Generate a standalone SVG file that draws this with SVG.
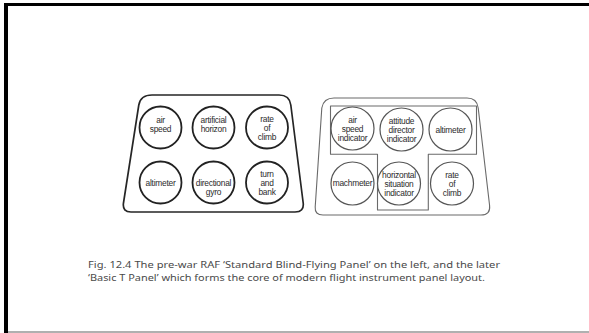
<svg xmlns="http://www.w3.org/2000/svg" width="589" height="333" viewBox="0 0 589 333">
  <style>
    .frame { fill: #000; }
    .panel-old { fill: none; stroke: #262626; stroke-width: 1.7; stroke-linejoin: round; }
    .panel-new { fill: none; stroke: #6a6a6a; stroke-width: 1.1; stroke-linejoin: round; }
    .dial-old { fill: #fff; stroke: #222; stroke-width: 1.8; }
    .dial-new { fill: #fff; stroke: #555; stroke-width: 1.2; }
    .lbl { font-family: "Liberation Sans", Arial, sans-serif; font-size: 8.4px; fill: #2b2b2b; text-anchor: middle; letter-spacing: -0.25px; }
    .cap { font-family: "Noto Sans", "Liberation Sans", sans-serif; font-size: 9.8px; fill: #4a4a4a; }
  </style>

  <rect width="589" height="333" fill="#fff"/>
  <!-- slide frame -->
  <rect class="frame" x="4" y="3" width="585" height="3"/>
  <rect class="frame" x="4" y="3" width="4" height="330"/>
  <rect x="8" y="331" width="581" height="2" fill="#b0b0b0"/>

  <!-- Standard Blind-Flying Panel -->
  <g id="panel-standard">
    <path class="panel-old" d="M152 95 L279 95 Q289.5 95 290.8 105 L303.2 203 Q304.2 212 295 212 L131 212 Q122.5 212 123.4 203.5 L138.8 105 Q140.5 95 152 95 Z"/>
  </g>
  <g id="air-speed">
    <circle class="dial-old" cx="160.5" cy="127.5" r="21"/>
    <text class="lbl" x="160.5" y="122.5">air</text>
    <text class="lbl" x="160.5" y="132">speed</text>
  </g>
  <g id="artificial-horizon">
    <circle class="dial-old" cx="213.5" cy="127.5" r="21"/>
    <text class="lbl" x="213.5" y="122.5">artificial</text>
    <text class="lbl" x="213.5" y="131.5">horizon</text>
  </g>
  <g id="rate-of-climb-std">
    <circle class="dial-old" cx="267" cy="127.5" r="21"/>
    <text class="lbl" x="267" y="122.3">rate</text>
    <text class="lbl" x="267" y="131.3">of</text>
    <text class="lbl" x="267" y="140.3">climb</text>
  </g>
  <g id="altimeter-std">
    <circle class="dial-old" cx="160.5" cy="182.5" r="21"/>
    <text class="lbl" x="160.5" y="185.5">altimeter</text>
  </g>
  <g id="directional-gyro">
    <circle class="dial-old" cx="213.5" cy="182.5" r="21"/>
    <text class="lbl" x="213.5" y="185.5">directional</text>
    <text class="lbl" x="213.5" y="195">gyro</text>
  </g>
  <g id="turn-and-bank">
    <circle class="dial-old" cx="267" cy="182.5" r="21"/>
    <text class="lbl" x="267" y="176.5">turn</text>
    <text class="lbl" x="267" y="185.5">and</text>
    <text class="lbl" x="267" y="194.5">bank</text>
  </g>

  <!-- Basic T Panel -->
  <g id="panel-basic-t">
    <path class="panel-new" d="M334 98 L467 98 Q477 98 478.2 108 L489.6 205.5 Q490.6 215 481 215 L323 215 Q314.6 215 315.2 207 L321.8 108 Q323.5 98 334 98 Z"/>
    <path class="panel-new" d="M330.5 106 L476.5 106 L476.5 154.3 L428.3 154.3 L428.3 210 L377.5 210 L377.5 154.3 L330.5 154.3 Z"/>
  </g>
  <g id="air-speed-indicator">
    <circle class="dial-new" cx="352.5" cy="128.5" r="21.5"/>
    <text class="lbl" x="352.5" y="123">air</text>
    <text class="lbl" x="352.5" y="132">speed</text>
    <text class="lbl" x="352.5" y="141">indicator</text>
  </g>
  <g id="attitude-director-indicator">
    <circle class="dial-new" cx="401.5" cy="129.5" r="21.5"/>
    <text class="lbl" x="401.5" y="124">attitude</text>
    <text class="lbl" x="401.5" y="133">director</text>
    <text class="lbl" x="401.5" y="142">indicator</text>
  </g>
  <g id="altimeter-t">
    <circle class="dial-new" cx="450.5" cy="129.5" r="21.5"/>
    <text class="lbl" x="450.5" y="133">altimeter</text>
  </g>
  <g id="machmeter">
    <circle class="dial-new" cx="352.5" cy="183.5" r="21.5"/>
    <text class="lbl" x="352.5" y="186">machmeter</text>
  </g>
  <g id="horizontal-situation-indicator">
    <circle class="dial-new" cx="399" cy="183.5" r="21.5"/>
    <text class="lbl" x="399" y="178">horizontal</text>
    <text class="lbl" x="399" y="187">situation</text>
    <text class="lbl" x="399" y="196">indicator</text>
  </g>
  <g id="rate-of-climb-t">
    <circle class="dial-new" cx="452" cy="183.5" r="21.5"/>
    <text class="lbl" x="452" y="178">rate</text>
    <text class="lbl" x="452" y="187">of</text>
    <text class="lbl" x="452" y="196">climb</text>
  </g>

  <!-- caption -->
  <text class="cap" x="88" y="267.5" textLength="412" lengthAdjust="spacingAndGlyphs">Fig. 12.4 The pre-war RAF ‘Standard Blind-Flying Panel’ on the left, and the later</text>
  <text class="cap" x="88" y="280.5" textLength="397" lengthAdjust="spacingAndGlyphs">‘Basic T Panel’ which forms the core of modern flight instrument panel layout.</text>
</svg>
